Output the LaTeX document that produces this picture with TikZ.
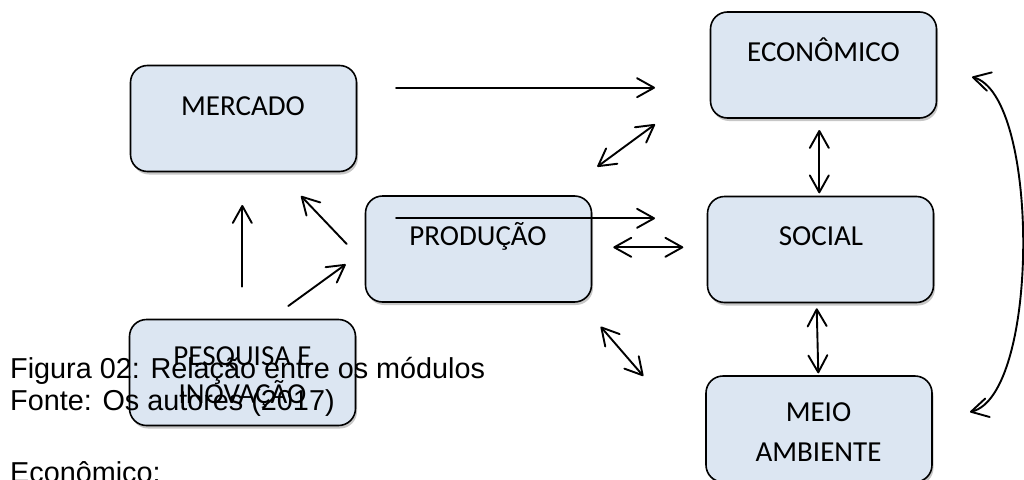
\documentclass[tikz,border=0pt]{standalone}
\usepackage{fontspec}
\setmainfont{Liberation Sans}
\newfontfamily\boxfont{Carlito}
\usetikzlibrary{arrows.meta,shadows}
\definecolor{boxfill}{HTML}{DCE6F2}
\tikzset{
  modbox/.style={draw=black, line width=1.6pt, fill=boxfill, rounded corners=17pt,
    minimum width=226pt, minimum height=106pt, inner sep=0pt, outer sep=0pt,
    drop shadow={shadow xshift=1.5pt, shadow yshift=-3pt, fill=black, opacity=0.22}},
  boxtext/.style={anchor=base, inner sep=0pt, font=\boxfont\fontsize{29}{35}\selectfont},
  captext/.style={anchor=base west, inner sep=0pt, font=\fontsize{28.8}{34}\selectfont},
  conn/.style={line width=1.9pt, line join=round, line cap=round},
  >={Straight Barb[length=17pt,width=19pt,line join=round,line cap=round]}
}
\begin{document}
\begin{tikzpicture}[x=1pt,y=-1pt]
\useasboundingbox (0,0) rectangle (1024,479);
\clip (0,0) rectangle (1024,479);

% boxes
\node[modbox] (mercado)   at (243.5,118.5) {};
\node[modbox] (producao)  at (478.5,249)   {};
\node[modbox] (economico) at (823.5,65)    {};
\node[modbox] (social)    at (820.5,249.5) {};
\node[modbox] (meio)      at (819,429)     {};
\node[modbox] (pesquisa)  at (242.5,372.5) {};

% box texts
\node[boxtext] (mercadoT)   at (243,115)    {MERCADO};
\node[boxtext] (producaoT)  at (478,245)    {PRODUÇÃO};
\node[boxtext] (economicoT) at (823.5,61)   {ECONÔMICO};
\node[boxtext] (socialT)    at (821,245)    {SOCIAL};
\node[boxtext] (meioT1)     at (818.5,421.7){MEIO};
\node[boxtext] (meioT2)     at (818.5,461.7){AMBIENTE};
\node[boxtext] (pesqT1)     at (242.5,365)  {PESQUISA E};
\node[boxtext] (pesqT2)     at (242.5,403.5){INOVAÇÃO};

% connector end points
\coordinate (me-s) at (396,87.7);   \coordinate (me-e) at (655,87.7);
\coordinate (pe-s) at (597.3,166.7);\coordinate (pe-e) at (655,124.3);
\coordinate (ps-s) at (396,218.3);  \coordinate (ps-e) at (655,218.3);
\coordinate (ps2-s) at (613.3,247.3);\coordinate (ps2-e) at (683.3,247.3);
\coordinate (pm-s) at (600.7,326.7);\coordinate (pm-e) at (643.3,376);
\coordinate (es-s) at (819.3,130);  \coordinate (es-e) at (819.3,193.3);
\coordinate (sm-s) at (816.7,308.3);\coordinate (sm-e) at (818.3,373.3);
\coordinate (qm-s) at (242.3,286.7);\coordinate (qm-e) at (242.3,205);
\coordinate (pmk-s) at (346.7,244); \coordinate (pmk-e) at (301,196);
\coordinate (qp-s) at (288.3,306);  \coordinate (qp-e) at (345.7,264.3);
\coordinate (cv-s) at (972,77);     \coordinate (cv-e) at (970,412);

% connectors
\draw[conn,->]  (me-s) -- (me-e);
\draw[conn,<->] (pe-s) -- (pe-e);
\draw[conn,->]  (ps-s) -- (ps-e);
\draw[conn,<->] (ps2-s) -- (ps2-e);
\draw[conn,<->] (pm-s) -- (pm-e);
\draw[conn,<->] (es-s) -- (es-e);
\draw[conn,<->] (sm-s) -- (sm-e);
\draw[conn,->]  (qm-s) -- (qm-e);
\draw[conn,->]  (pmk-s) -- (pmk-e);
\draw[conn,->]  (qp-s) -- (qp-e);
\draw[conn,<->] (cv-s) .. controls (1040,95) and (1040,395) .. (cv-e);

% caption text
\node[captext] (cap1) at (10,378)   {Figura 02: Relação entre os módulos};
\node[captext] (cap2) at (10,410)   {Fonte: Os autores (2017)};
\node[captext] (cap3) at (10,482.5) {Econômico:};
\end{tikzpicture}
\end{document}
